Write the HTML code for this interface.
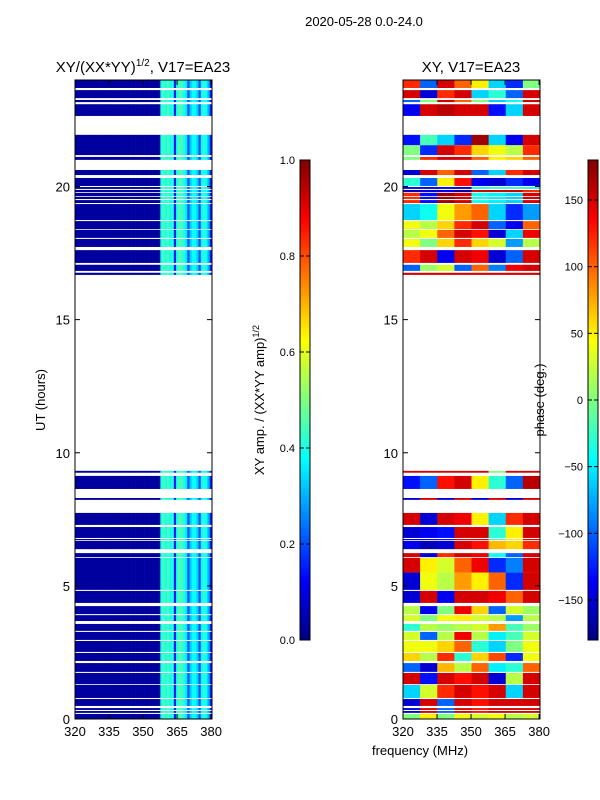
<!DOCTYPE html>
<html><head><meta charset="utf-8"><style>
body{margin:0;background:#fff;}
svg{display:block;font-family:"Liberation Sans","DejaVu Sans",sans-serif;}
</style></head><body>
<svg id="fig" width="600" height="800" viewBox="0 0 600 800" xmlns="http://www.w3.org/2000/svg">
<text x="364" y="26" font-size="13" text-anchor="middle">2020-05-28 0.0-24.0</text>
<text x="143" y="72" font-size="15" text-anchor="middle">XY/(XX*YY)<tspan font-size="10" dy="-6">1/2</tspan><tspan dy="6">, V17=EA23</tspan></text>
<text x="471" y="72" font-size="15" text-anchor="middle">XY, V17=EA23</text>
<text transform="translate(45,400) rotate(-90)" font-size="13" text-anchor="middle">UT (hours)</text>
<text x="420" y="755" font-size="13" text-anchor="middle">frequency (MHz)</text>
<text transform="translate(264,400) rotate(-90)" font-size="13" text-anchor="middle">XY amp. / (XX*YY amp)<tspan font-size="9" dy="-5">1/2</tspan></text>
<text transform="translate(544,400) rotate(-90)" font-size="13" text-anchor="middle">phase (deg.)</text>
<g id="g-left"></g>
<g id="g-right"></g>
<g id="g-axes"></g>
<g id="g-cb"></g>
</svg>
<script>
// ---- data ----
const dataSegments = [[23.70,24.0],[23.32,23.62],[23.17,23.25],[22.65,23.09],[21.18,21.94],[21.00,21.11],[20.43,20.62],[20.02,20.32],[19.91,19.98],[19.79,19.87],[19.64,19.76],[19.53,19.61],[19.38,19.49],[18.74,19.34],[18.40,18.70],[18.07,18.37],[17.73,18.03],[17.13,17.61],[16.83,17.06],[16.68,16.76],[9.25,9.32],[8.64,9.13],[8.23,8.30],[7.29,7.74],[6.80,7.21],[6.72,6.76],[6.38,6.69],[6.08,6.23],[4.85,6.05],[4.36,4.81],[3.94,4.24],[3.68,3.90],[3.31,3.57],[2.97,3.27],[2.52,2.93],[2.18,2.48],[1.77,2.10],[1.31,1.73],[0.79,1.28],[0.49,0.75],[0.34,0.41],[0.23,0.30],[0,0.19]];
const ampProfile = [0.03,0.03,0.03,0.03,0.03,0.03,0.03,0.03,0.03,0.03,0.03,0.03,0.03,0.03,0.03,0.03,0.03,0.03,0.03,0.03,0.03,0.03,0.03,0.03,0.03,0.03,0.03,0.03,0.03,0.03,0.03,0.03,0.03,0.03,0.03,0.03,0.03,0.03,0.4,0.44,0.4,0.45,0.38,0.42,0.15,0.4,0.45,0.44,0.4,0.36,0.2,0.33,0.38,0.38,0.33,0.2,0.38,0.42,0.38,0.3,0.15];
const phaseRowTimes = [[23.70,24],[23.32,23.62],[23.17,23.25],[22.65,23.09],[21.55,21.94],[21.18,21.55],[21.0,21.11],[20.43,20.62],[20.02,20.32],[19.91,19.98],[19.79,19.87],[19.38,19.76],[18.74,19.34],[18.40,18.70],[18.07,18.37],[17.73,18.03],[17.13,17.61],[16.83,17.06],[16.68,16.76],[9.25,9.32],[8.64,9.13],[8.23,8.30],[7.29,7.74],[6.69,7.21],[6.38,6.69],[6.05,6.23],[5.50,6.05],[4.85,5.50],[4.36,4.81],[3.94,4.24],[3.68,3.90],[3.27,3.57],[2.93,3.27],[2.52,2.93],[2.10,2.48],[1.73,2.10],[1.31,1.73],[0.79,1.28],[0.19,0.75],[0,0.19]];
const phaseRowValues = [
[120,-100,150,100,50,-60,-120,0],[150,-150,120,150,-60,-30,-100,150],[-100,0,150,100,0,-60,-40,150],[-140,150,160,150,150,-130,-60,150],
[-130,-20,-60,-120,170,-60,-140,150],[0,-120,150,120,60,40,20,120],[0,120,150,150,100,50,60,100],[-150,150,100,150,-100,-60,120,150],
[-30,-100,50,130,-140,-150,-120,-140],[-140,-150,-140,-150,-40,-30,-30,-40],[-160,-150,-140,-170,150,150,150,120],[120,-130,170,150,-40,-50,-60,150],
[-60,-40,40,80,100,-60,-120,-80],[40,20,60,120,150,-100,-140,100],[20,40,100,150,130,-150,-60,140],[40,0,60,120,60,30,-80,20],
[120,150,-140,150,140,-150,-100,150],[-100,10,30,-100,100,-90,140,150],[150,150,150,150,150,150,150,150],[150,150,150,150,150,0,150,150],
[-130,-100,130,150,50,-30,-100,160],[-150,150,-150,150,-150,150,-150,150],[150,-150,150,140,50,-60,120,150],[-150,-140,-130,150,150,-30,50,150],
[-140,-160,-150,150,130,70,60,120],[150,-150,120,150,140,-40,-100,150],[150,50,30,100,140,-120,-90,150],[-150,40,20,80,50,100,-120,150],
[-150,150,-140,150,150,140,100,150],[20,-140,0,140,60,-100,30,10],[30,0,40,50,30,20,-80,20],[-30,20,10,20,30,80,-20,10],
[30,-100,20,140,20,-50,-20,30],[40,40,60,100,-30,-60,0,40],[60,20,120,-30,60,110,-120,40],[-100,-150,70,20,100,-50,-30,100],
[150,-130,150,130,150,-150,20,150],[-60,30,120,150,130,150,-60,150],[-150,150,-100,150,130,150,150,150],[0,50,0,40,30,40,20,30]];
const xTicks = [320,335,350,365,380];
const yTicks = [0,5,10,15,20];
const ampTicks = [0.0,0.2,0.4,0.6,0.8,1.0];
const phaseTicks = [-150,-100,-50,0,50,100,150];

// ---- scales ----
const NS="http://www.w3.org/2000/svg";
const F0=320,F1=380.4,T0=0,T1=24,TOP=80,BOT=719;
const yS=t=>BOT-(t-T0)/(T1-T0)*(BOT-TOP);
const xS=(x0,f)=>x0+(f-F0)/(F1-F0)*137;
function jet(v){v=Math.max(0,Math.min(1,v));
 const c=x=>Math.round(255*Math.max(0,Math.min(1,x)));
 return `rgb(${c(1.5-Math.abs(4*v-3))},${c(1.5-Math.abs(4*v-2))},${c(1.5-Math.abs(4*v-1))})`;}
function mk(tag,a,p){const e=document.createElementNS(NS,tag);for(const k in a)e.setAttribute(k,a[k]);p.appendChild(e);return e;}

// amplitude heatmap
const gl=document.getElementById('g-left');
const cw=(F1-F0)/ampProfile.length;
dataSegments.forEach(s=>{
 ampProfile.forEach((v,i)=>{
  const xa=xS(75,F0+i*cw),xb=xS(75,F0+(i+1)*cw);
  const r=mk('rect',{x:xa,y:yS(s[1]),width:xb-xa+0.3,height:yS(s[0])-yS(s[1]),fill:jet(v)},gl);
  
  
 });
});
// phase heatmap
const gr=document.getElementById('g-right');
const pw=(F1-F0)/8;
dataSegments.forEach(s=>{
 phaseRowTimes.forEach((pt,ri)=>{
  const a=Math.max(s[0],pt[0]),b=Math.min(s[1],pt[1]);
  if(b<=a)return;
  phaseRowValues[ri].forEach((v,ci)=>{
   const xa=xS(403,F0+ci*pw),xb=xS(403,F0+(ci+1)*pw);
   const r=mk('rect',{x:xa,y:yS(b),width:xb-xa+0.3,height:yS(a)-yS(b),fill:jet((v+180)/360)},gr);
   
   
  });
 });
});
// axes
const ga=document.getElementById('g-axes');
[75,403].forEach((x0,pi)=>{
 const fr=mk('rect',{x:x0,y:TOP,width:137,height:BOT-TOP,fill:'none',stroke:'#000','stroke-width':1},ga);
 
 
 xTicks.forEach(f=>{const x=xS(x0,f);
  mk('line',{x1:x,y1:BOT,x2:x,y2:BOT-5,stroke:'#000'},ga);
  mk('line',{x1:x,y1:TOP,x2:x,y2:TOP+5,stroke:'#000'},ga);
  const t=mk('text',{x:x,y:BOT+17,'font-size':13,'text-anchor':'middle'},ga);t.textContent=f;
  
  
 });
 yTicks.forEach(v=>{const y=yS(v);
  mk('line',{x1:x0,y1:y,x2:x0+5,y2:y,stroke:'#000'},ga);
  mk('line',{x1:x0+137,y1:y,x2:x0+132,y2:y,stroke:'#000'},ga);
  const t=mk('text',{x:x0-5,y:y+5,'font-size':13,'text-anchor':'end'},ga);t.textContent=v;
  
  
 });
});
// colorbars
const gc=document.getElementById('g-cb');
function cbar(x,lo,hi,ticks,name){
 for(let i=0;i<240;i++){
  mk('rect',{x:x,y:160+i*2,width:10,height:2.3,fill:jet(1-(i+0.5)/240)},gc);
 }
 const fr=mk('rect',{x:x,y:160,width:10,height:480,fill:'none',stroke:'#000'},gc);
 
 
 ticks.forEach(v=>{const y=640-(v-lo)/(hi-lo)*480;
  mk('line',{x1:x,y1:y,x2:x+4,y2:y,stroke:'#000'},gc);
  mk('line',{x1:x+10,y1:y,x2:x+6,y2:y,stroke:'#000'},gc);
  const t=mk('text',{x:x-5,y:y+4,'font-size':11,'text-anchor':'end'},gc);
  t.textContent=name.startsWith('amp')?v.toFixed(1):(v<0?'\u2212'+(-v):v);
  
  
 });
}
cbar(300,0,1,ampTicks,'amp-colorbar');
cbar(588,-180,180,phaseTicks,'phase-colorbar');
</script>
</body></html>
